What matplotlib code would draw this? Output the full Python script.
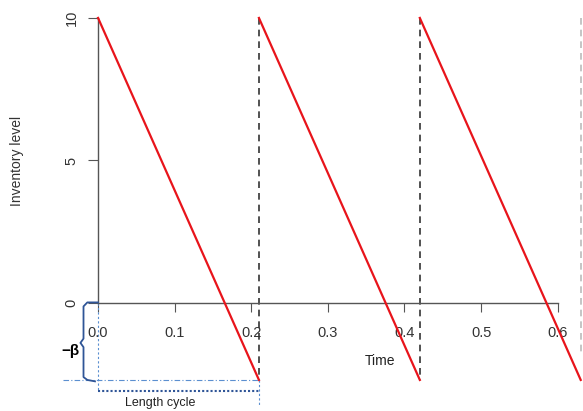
import matplotlib
matplotlib.use('Agg')
import matplotlib.pyplot as plt

plt.rcParams['font.family'] = ['Liberation Sans', 'DejaVu Sans']

# sawtooth inventory: each cycle starts at 10 and falls to -beta
cycle_starts = [0.0, 0.21, 0.42]
cycle_ends = [0.21, 0.42, 0.63]
top_level = 10
bottom_level = -2.7
x_ticks = [0.0, 0.1, 0.2, 0.3, 0.4, 0.5, 0.6]
x_labels = ['0.0', '0.1', '0.2', '0.3', '0.4', '0.5', '0.6']
y_ticks = [0, 5, 10]
y_labels = ['0', '5', '10']

fig = plt.figure(figsize=(5.83, 4.11), dpi=100)
ax = fig.add_axes([0, 0, 1, 1])
ax.set_xlim(-0.128, 0.633)
ax.set_ylim(-3.79, 10.63)

for s, e in zip(cycle_starts, cycle_ends):
    ax.plot([s, e], [top_level, bottom_level], color='#E8141B', lw=1.6, zorder=3)
for e in cycle_ends[:2]:
    ax.plot([e, e], [top_level, bottom_level], color='#333333', lw=1.2,
            ls=(0, (4, 3)), zorder=2)
ax.plot([cycle_ends[2], cycle_ends[2]], [top_level, -1.8], color='#bbbbbb', lw=1.2,
        ls=(0, (4, 3)), zorder=2)

# axes like base R
for side in ['top', 'right']:
    ax.spines[side].set_visible(False)
ax.spines['left'].set_position(('data', 0))
ax.spines['bottom'].set_position(('data', 0))
ax.spines['left'].set_bounds(0, 10)
ax.spines['bottom'].set_bounds(0, 0.6)
for side in ['left', 'bottom']:
    ax.spines[side].set_color('#555555')
    ax.spines[side].set_linewidth(1.0)
ax.set_xticks(x_ticks)
ax.set_xticklabels(x_labels)
ax.set_yticks(y_ticks)
ax.set_yticklabels(y_labels, rotation=90, va='center')
ax.tick_params(axis='x', direction='out', length=6.5, pad=10, labelsize=10.5,
               colors='#555555', labelcolor='#333333')
ax.tick_params(axis='y', direction='out', length=7, pad=7, labelsize=10.5,
               colors='#555555', labelcolor='#333333')

ax.text(-0.106, 5.0, 'Inventory level', rotation=90, ha='center', va='center',
        fontsize=10, color='#333333')
ax.text(0.368, -2.05, 'Time', ha='center', va='center', fontsize=10, color='#222222')

# annotation: brace for -beta and cycle length
blue = '#2F5597'
light = '#5B8FD0'
ax.plot([0.0, -0.014, -0.019, -0.019, -0.023, -0.019, -0.019, -0.014, -0.004],
        [0.02, 0.02, -0.12, -1.25, -1.4, -1.55, -2.6, -2.7, -2.75],
        color=blue, lw=1.3, zorder=4)
ax.text(-0.036, -1.7, '\u2212\u03b2', ha='center', va='center', fontsize=11,
        fontweight='bold', color='black')
ax.plot([-0.046, 0.21], [bottom_level, bottom_level], color=light, lw=0.8,
        ls=(0, (5, 2, 1, 2)))
ax.plot([0.0, 0.0], [0.0, -3.09], color=light, lw=0.8, ls=(0, (2, 2)))
ax.plot([0.21, 0.21], [bottom_level, -3.6], color=light, lw=0.8, ls=(0, (2, 2)))
ax.plot([0.0, 0.21], [-3.09, -3.09], color=blue, lw=1.5, ls=(0, (1, 1)))
ax.text(0.081, -3.5, 'Length cycle', ha='center', va='center', fontsize=9,
        color='#222222')

fig.savefig('out.png', dpi=100)
